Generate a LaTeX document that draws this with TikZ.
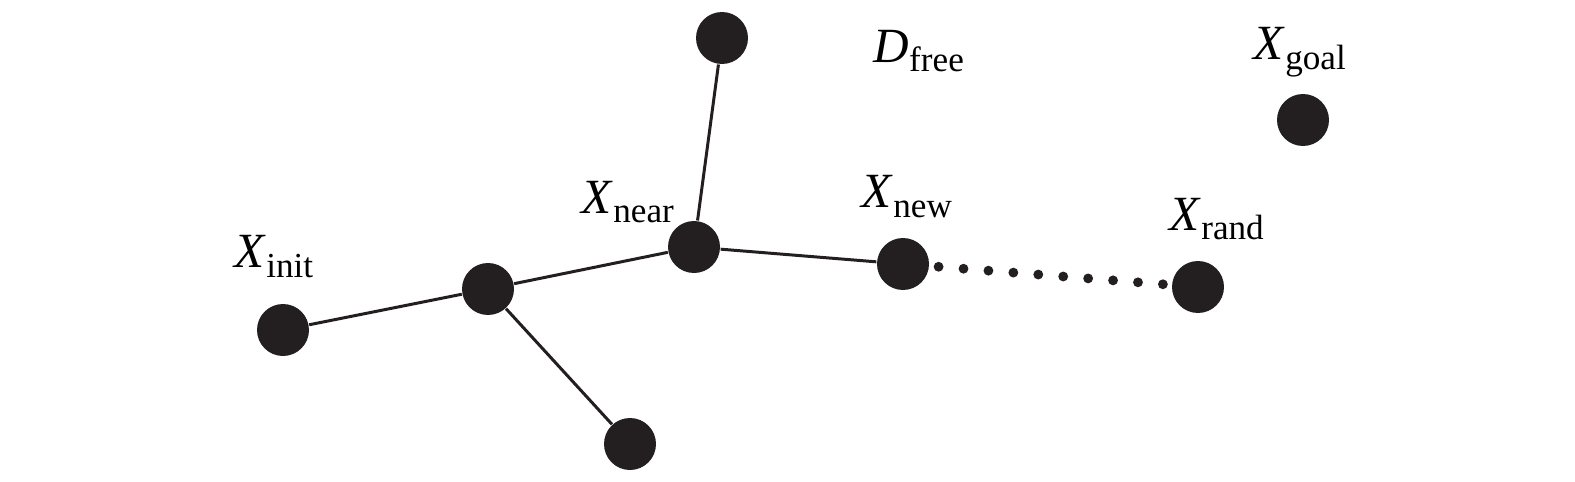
\documentclass[tikz,border=0pt]{standalone}
\usepackage{fontspec}
\setmainfont{Liberation Serif}
\usepackage{tikz}
\definecolor{dotblack}{RGB}{35,31,32}

\newcommand{\sublbl}[2]{\textit{#1}\raisebox{-2.8pt}{\fontsize{10}{10}\selectfont #2}}

\begin{document}
\begin{tikzpicture}[
  vertex/.style={circle, fill=dotblack, inner sep=0pt, minimum size=0.52cm},
  vname/.style={anchor=base west, inner sep=0pt, font=\fontsize{14}{14}\selectfont},
  edge/.style={line width=0.85pt, dotblack},
  dotline/.style={line width=2.8pt, dotblack, line cap=round, dash pattern=on 0pt off 0.250cm, shorten <=0.09cm, shorten >=0.03cm}
]
\useasboundingbox (0,0) rectangle (15.75,-4.82);

%tree vertices
\node[vertex] (top) at (7.22,-0.38) {};
\node[vertex] (near) at (6.94,-2.47) {};
\node[vertex] (mid) at (4.88,-2.89) {};
\node[vertex] (init) at (2.83,-3.30) {};
\node[vertex] (bottom) at (6.30,-4.44) {};
\node[vertex] (new) at (9.03,-2.64) {};

%sample and goal
\node[vertex] (rand) at (11.98,-2.87) {};
\node[vertex] (goal) at (13.03,-1.20) {};

%names
\node[vname] (initname) at (2.34,-2.68) {\sublbl{X}{init}};
\node[vname] (nearname) at (5.81,-2.13) {\sublbl{X}{near}};
\node[vname] (newname) at (8.61,-2.08) {\sublbl{X}{new}};
\node[vname] (randname) at (11.69,-2.30) {\sublbl{X}{rand}};
\node[vname] (goalname) at (12.53,-0.60) {\sublbl{X}{goal}};
\node[vname] (freename) at (8.73,-0.62) {\sublbl{D}{free}};

%lines
\draw[edge] (init) -- (mid);
\draw[edge] (mid) -- (near);
\draw[edge] (mid) -- (bottom);
\draw[edge] (near) -- (top);
\draw[edge] (near) -- (new);

%extension towards the sample
\draw[dotline] (new) -- (rand);

\end{tikzpicture}
\end{document}
